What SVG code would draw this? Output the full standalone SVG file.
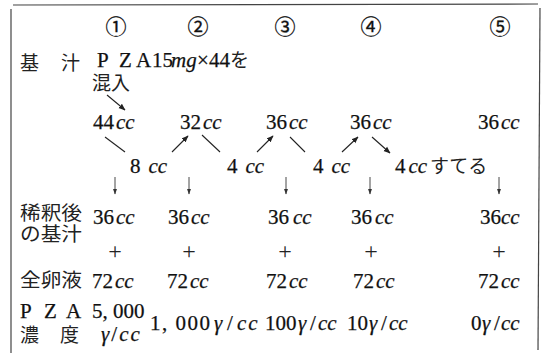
<svg xmlns="http://www.w3.org/2000/svg" width="546" height="353" viewBox="0 0 546 353">
<defs>
<style>
.n{font-family:"Liberation Serif","Times New Roman",serif;font-size:21px;fill:#111;stroke:#111;stroke-width:0.25}
.i{font-style:italic}
.j{font-family:"Noto Sans CJK JP","Noto Sans CJK SC",sans-serif;font-size:19px;fill:#222}
.c{font-family:"Noto Sans CJK JP",sans-serif;font-size:21px;fill:#111;stroke:#111;stroke-width:0.3;text-anchor:middle}
.p{font-family:"Liberation Serif",serif;font-size:24px;fill:#222;text-anchor:middle}
.ln{stroke:#222;stroke-width:1.1;fill:none}
.ar{stroke:#222;stroke-width:1.1;fill:none;marker-end:url(#ah)}
.dn{stroke:#333;stroke-width:0.9;fill:none;marker-end:url(#ah2)}
.b{stroke:#444;stroke-width:1.2;fill:none}
</style>
<marker id="ah" viewBox="0 0 10 10" refX="9" refY="5" markerWidth="7" markerHeight="7" orient="auto" markerUnits="userSpaceOnUse"><path d="M0,1 L10,5 L0,9 Z" fill="#222"/></marker>
<marker id="ah2" viewBox="0 0 10 10" refX="9" refY="5" markerWidth="6" markerHeight="6" orient="auto" markerUnits="userSpaceOnUse"><path d="M0,1.5 L10,5 L0,8.5 Z" fill="#333"/></marker>
</defs>
<rect width="546" height="353" fill="#fff"/>
<g id="frame">
<line class="b" x1="13" y1="5" x2="538" y2="4"/>
<line class="b" x1="11" y1="9" x2="11" y2="353"/>
<line class="b" x1="540" y1="8" x2="538" y2="350"/>
</g>
<g id="headers">
<text class="c" x="116" y="34">①</text>
<text class="c" x="198" y="34">②</text>
<text class="c" x="285" y="34">③</text>
<text class="c" x="371" y="34">④</text>
<text class="c" x="500" y="34">⑤</text>
</g>
<g id="labels">
<text class="j" x="20" y="70">基</text>
<text class="j" x="61" y="70">汁</text>
<text class="j" x="20" y="220" font-size="18" textLength="62" lengthAdjust="spacingAndGlyphs">稀釈後</text>
<text class="j" x="20" y="241" font-size="18" textLength="62" lengthAdjust="spacingAndGlyphs">の基汁</text>
<text class="j" x="20" y="287" textLength="62" lengthAdjust="spacingAndGlyphs">全卵液</text>
<text class="n" y="318"><tspan x="20">P</tspan><tspan x="44">Z</tspan><tspan x="66">A</tspan></text>
<text class="j" x="20" y="342">濃</text>
<text class="j" x="60" y="342">度</text>
</g>
<g id="source">
<text class="n" y="67" font-size="20"><tspan x="97">P</tspan><tspan x="119">Z</tspan><tspan x="136">A</tspan><tspan x="152">15</tspan><tspan class="i" x="171">mg</tspan><tspan x="197">×</tspan><tspan x="209">44</tspan></text>
<text class="j" x="230" y="67" font-size="18">を</text>
<text class="j" x="92" y="90">混入</text>
</g>
<g id="stock">
<text class="n" x="93" y="129">44<tspan class="i" dx="2">cc</tspan></text>
<text class="n" x="180" y="129">32<tspan class="i" dx="2">cc</tspan></text>
<text class="n" x="266" y="129">36<tspan class="i" dx="2">cc</tspan></text>
<text class="n" x="350" y="129">36<tspan class="i" dx="2">cc</tspan></text>
<text class="n" x="478" y="129">36<tspan class="i" dx="2">cc</tspan></text>
</g>
<g id="transfer">
<text class="n" x="130" y="173">8<tspan class="i" dx="8">cc</tspan></text>
<text class="n" x="227" y="173">4<tspan class="i" dx="8">cc</tspan></text>
<text class="n" x="313" y="173">4<tspan class="i" dx="8">cc</tspan></text>
<text class="n" x="395" y="173">4<tspan class="i" dx="3">cc</tspan></text>
<text class="j" x="430" y="173" font-size="20">すてる</text>
</g>
<g id="diluted">
<text class="n" x="93" y="224">36<tspan class="i" dx="2">cc</tspan></text>
<text class="n" x="168" y="224">36<tspan class="i" dx="2">cc</tspan></text>
<text class="n" x="268" y="224">36<tspan class="i" dx="4">cc</tspan></text>
<text class="n" x="351" y="224">36<tspan class="i" dx="3">cc</tspan></text>
<text class="n" x="480" y="224">36<tspan class="i">cc</tspan></text>
</g>
<g id="plus">
<text class="p" x="115" y="259">+</text>
<text class="p" x="189" y="259">+</text>
<text class="p" x="285" y="259">+</text>
<text class="p" x="371" y="259">+</text>
<text class="p" x="499" y="259">+</text>
</g>
<g id="egg">
<text class="n" x="92" y="288">72<tspan class="i" dx="2">cc</tspan></text>
<text class="n" x="167" y="288">72<tspan class="i" dx="2">cc</tspan></text>
<text class="n" x="266" y="288">72<tspan class="i" dx="2">cc</tspan></text>
<text class="n" x="353" y="288">72<tspan class="i" dx="2">cc</tspan></text>
<text class="n" x="478" y="288">72<tspan class="i" dx="2">cc</tspan></text>
</g>
<g id="conc">
<text class="n" x="92" y="318">5, 000</text>
<text class="n" x="101" y="341" letter-spacing="2"><tspan class="i">γ</tspan>/<tspan class="i">cc</tspan></text>
<text class="n" y="330"><tspan x="150" letter-spacing="1.5">1, 000</tspan><tspan class="i" x="214">γ</tspan><tspan x="227">/</tspan><tspan class="i" x="237" letter-spacing="2">cc</tspan></text>
<text class="n" y="330"><tspan x="265">100</tspan><tspan class="i" x="298">γ</tspan><tspan x="310">/</tspan><tspan class="i" x="318">cc</tspan></text>
<text class="n" y="330"><tspan x="347">10</tspan><tspan class="i" x="369">γ</tspan><tspan x="381">/</tspan><tspan class="i" x="389">cc</tspan></text>
<text class="n" y="330"><tspan x="471">0</tspan><tspan class="i" x="482">γ</tspan><tspan x="494">/</tspan><tspan class="i" x="501">cc</tspan></text>
</g>
<g id="connectors">
<line class="ar" x1="107" y1="95" x2="125" y2="110"/>
<line class="ln" x1="105" y1="137" x2="125" y2="152"/>
<line class="ar" x1="172" y1="152" x2="188" y2="136"/>
<line class="ln" x1="202" y1="135" x2="220" y2="152"/>
<line class="ar" x1="257" y1="152" x2="273" y2="136"/>
<line class="ln" x1="290" y1="137" x2="305" y2="152"/>
<line class="ar" x1="342" y1="152" x2="358" y2="137"/>
<line class="ar" x1="372" y1="137" x2="390" y2="153"/>
<line class="dn" x1="115" y1="177" x2="115" y2="194"/>
<line class="dn" x1="189" y1="177" x2="189" y2="194"/>
<line class="dn" x1="286" y1="177" x2="286" y2="194"/>
<line class="dn" x1="370" y1="177" x2="370" y2="194"/>
<line class="dn" x1="499" y1="177" x2="499" y2="194"/>
</g>
</svg>
